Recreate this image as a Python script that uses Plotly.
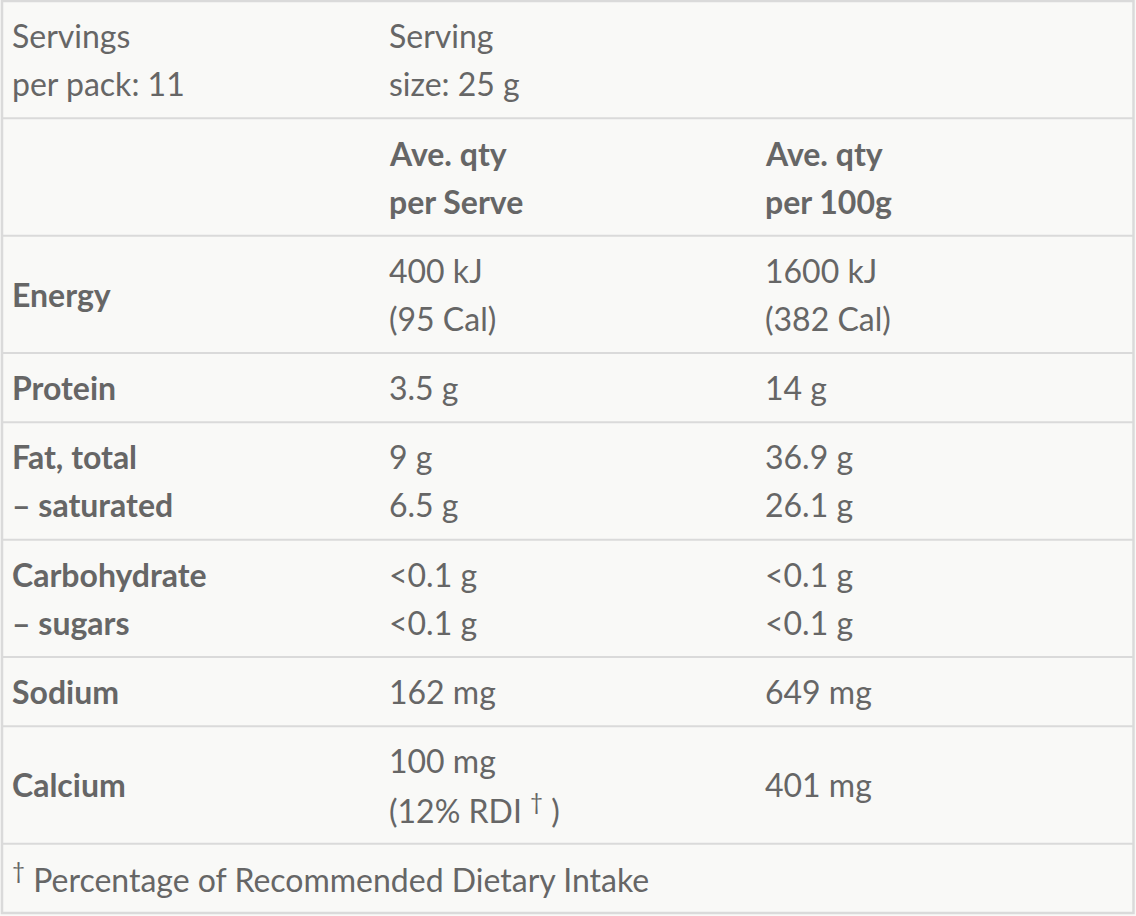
import plotly.graph_objects as go

# -------------------------------------------------------------
# Data of the nutrition panel (each cell = list of text lines)
# -------------------------------------------------------------
header_left = ["Servings", "per pack: 11"]
header_mid = ["Serving", "size: 25 g"]
col_titles = [["Ave. qty", "per Serve"], ["Ave. qty", "per 100g"]]

nutrients = [
    ["Energy"],
    ["Protein"],
    ["Fat, total", "– saturated"],
    ["Carbohydrate", "– sugars"],
    ["Sodium"],
    ["Calcium"],
]
per_serve = [
    ["400 kJ", "(95 Cal)"],
    ["3.5 g"],
    ["9 g", "6.5 g"],
    ["<0.1 g", "<0.1 g"],
    ["162 mg"],
    ["100 mg", "(12% RDI <sup>†</sup> )"],
]
per_100g = [
    ["1600 kJ", "(382 Cal)"],
    ["14 g"],
    ["36.9 g", "26.1 g"],
    ["<0.1 g", "<0.1 g"],
    ["649 mg"],
    ["401 mg"],
]
footnote = "<sup>†</sup> Percentage of Recommended Dietary Intake"

# -------------------------------------------------------------
# Layout (pixels)
# -------------------------------------------------------------
W, H = 1136, 916
TEXT = "#666666"
BORDER = "#dadada"
BG = "#f9f9f7"
FONT = "Lato, 'Open Sans', sans-serif"
FSIZE = 32
col_x = [10, 387, 763]
LINE = 48
PAD = 21.33

rows = [
    ([header_left], [header_mid], [[]], False),
    ([[]], [col_titles[0]], [col_titles[1]], True),
]
for n, s, h in zip(nutrients, per_serve, per_100g):
    rows.append(([n], [s], [h], "nut"))

fig = go.Figure()
annotations = []
shapes = []


def add_lines(lines, x, yc, bold):
    n = len(lines)
    for i, t in enumerate(lines):
        y = yc + (i - (n - 1) / 2) * LINE
        annotations.append(dict(
            x=x, y=y, xref="x", yref="y", text=t, showarrow=False,
            xanchor="left", yanchor="middle",
            font=dict(family=FONT, size=FSIZE, color=TEXT,
                      weight=700 if bold else 400),
        ))


y = 1
for left, mid, right, kind in rows:
    nlines = max(len(left[0]), len(mid[0]), len(right[0]), 1)
    h = PAD + LINE * nlines
    yc = y + h / 2
    add_lines(left[0], col_x[0], yc, kind is not False)
    add_lines(mid[0], col_x[1], yc, kind is True)
    add_lines(right[0], col_x[2], yc, kind is True)
    y += h
    shapes.append(dict(type="line", xref="x", yref="y", x0=2, x1=1134,
                       y0=y, y1=y, line=dict(color=BORDER, width=2)))

h = PAD + LINE
add_lines([footnote], col_x[0], y + h / 2, False)
y += h

# outer border
shapes.append(dict(type="rect", xref="x", yref="y", x0=2, x1=1133.5,
                   y0=1, y1=y, line=dict(color=BORDER, width=2.5)))

fig.update_layout(
    width=W, height=H,
    margin=dict(l=0, r=0, t=0, b=0),
    paper_bgcolor="white", plot_bgcolor=BG,
    xaxis=dict(range=[0, W], visible=False, fixedrange=True),
    yaxis=dict(range=[H, 0], visible=False, fixedrange=True),
    annotations=annotations,
    shapes=shapes,
    showlegend=False,
)

fig.write_html(
    "out.html",
    config={"displayModeBar": False},
    post_script="document.body.style.margin='0';document.body.style.overflow='hidden';",
)
